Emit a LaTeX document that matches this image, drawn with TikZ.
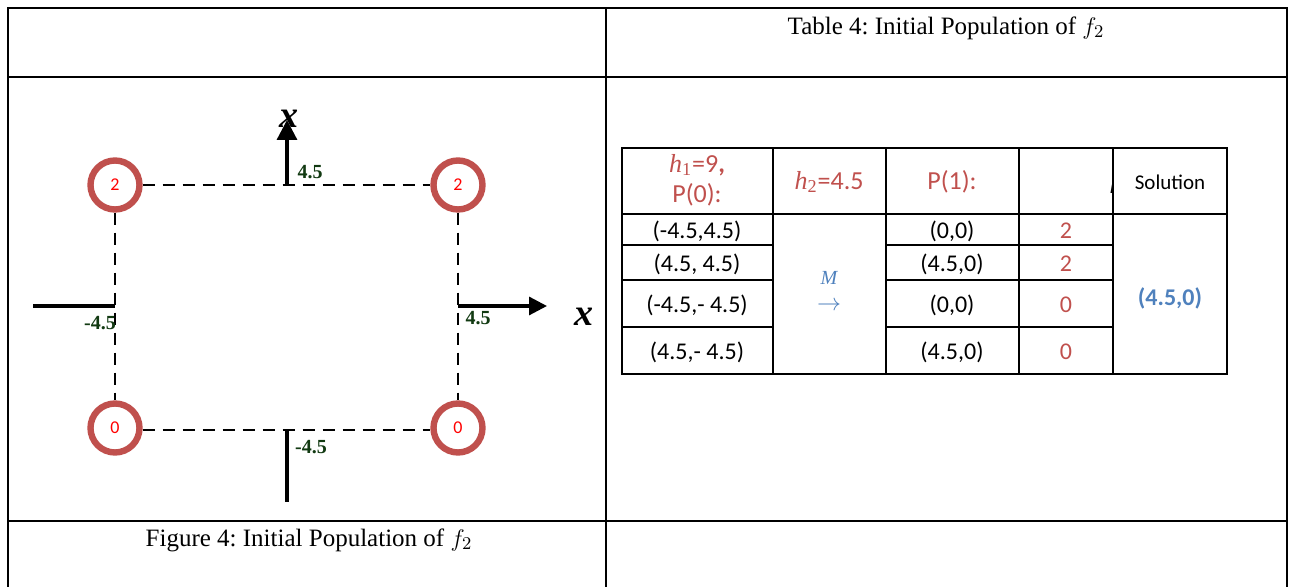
\documentclass[tikz,border=0pt]{standalone}
\usepackage{fontspec}
\setmainfont{Liberation Serif}
\newfontfamily\calib{Carlito}
\newfontfamily\hfont{Liberation Serif}
\usetikzlibrary{arrows.meta}
\definecolor{cRed}{RGB}{192,80,77}
\definecolor{cBlue}{RGB}{79,129,189}
\definecolor{cGreen}{RGB}{18,58,18}
\newcommand{\hvar}[1]{{\hfont\itshape h}\textsubscript{\hfont #1}}
\frenchspacing
\begin{document}
\begin{tikzpicture}[x=0.5pt,y=-0.5pt,
  frameln/.style={line width=1pt,black},
  gridln/.style={line width=1pt,black},
  ptnode/.style={circle,draw=cRed,line width=3.2pt,minimum size=24.5pt,inner sep=0pt,fill=white,
     text=red,font=\calib\fontsize{9}{10}\selectfont},
  dashln/.style={dash pattern=on 6pt off 4pt,line width=1.2pt},
  axisln/.style={line width=1.6pt},
  ticklab/.style={text=cGreen,font=\bfseries\fontsize{10}{12}\selectfont,inner sep=0pt},
  xlab/.style={font=\bfseries\itshape\fontsize{19}{20}\selectfont,inner sep=0pt},
  captxt/.style={font=\fontsize{12.5}{14}\selectfont,inner sep=0pt},
  celltxt/.style={font=\calib\fontsize{12}{14}\selectfont,inner sep=0pt},
  headtxt/.style={font=\calib\fontsize{13}{16}\selectfont,inner sep=0pt,text=cRed,align=center},
]
\useasboundingbox (0,0) rectangle (1292,587);
% outer frame
\draw[frameln] (8,587) -- (8,8) -- (1287,8) -- (1287,587);
\draw[frameln] (606,8) -- (606,587);
\draw[frameln] (8,77) -- (1287,77);
\draw[frameln] (8,521) -- (1287,521);
% captions
\node[captxt] (tcap) at (946,28) {Table 4: Initial Population of $f_2$};
\node[captxt] (fcap) at (309,540) {Figure 4: Initial Population of $f_2$};

% axes
\coordinate (ox1) at (287,185);
\coordinate (oy1) at (287,120);
\coordinate (ox2) at (287,430);
\coordinate (oy2) at (287,502);
\coordinate (lx1) at (33,306);
\coordinate (lx2) at (115,306);
\coordinate (rx1) at (458,306);
\coordinate (rx2) at (547,306);
\draw[axisln,-{Triangle[length=10pt,width=10pt]}] (ox1) -- (oy1);
\draw[axisln] (ox2) -- (oy2);
\draw[axisln] (lx1) -- (lx2);
\draw[axisln,-{Triangle[length=9pt,width=9pt]}] (rx1) -- (rx2);

% points
\node[ptnode] (c1) at (115,185) {2};
\node[ptnode] (c2) at (458,185) {2};
\node[ptnode] (c3) at (115,428) {0};
\node[ptnode] (c4) at (458,428) {0};
\draw[dashln] (c1.east) -- (c2.west);
\draw[dashln] (c1.south) -- (c3.north);
\draw[dashln] (c2.south) -- (c4.north);
\draw[dashln] (c3.east |- 0,430) -- (c4.west |- 0,430);

% tick labels
\node[ticklab] (t1) at (310,172) {4.5};
\node[ticklab] (t2) at (478,318) {4.5};
\node[ticklab] (t3) at (100,323) {-4.5};
\node[ticklab] (t4) at (311,447) {-4.5};
\node[xlab] (xa) at (289,119) {x};
\node[xlab] (xb) at (584,317) {x};

% table grid
\draw[gridln] (622,148) rectangle (1227,374);
\foreach \x in {773,886,1019,1113} \draw[gridln] (\x,148) -- (\x,374);
\draw[gridln] (622,214) -- (1227,214);
\foreach \y in {245,280,327} {
  \draw[gridln] (622,\y) -- (773,\y);
  \draw[gridln] (886,\y) -- (1113,\y);
}
% header
\node[headtxt] (h1) at (697,180) {\hvar{1}=9\textbf{,}\\[-1pt]P(0):};
\node[headtxt] (h2) at (829,182) {\hvar{2}=4.5};
\node[headtxt] (h3) at (952,182) {P(1):};
\node[celltxt,font=\calib\fontsize{10.5}{12}\selectfont] (h5) at (1170,182) {Solution};
\begin{scope}
\clip (1100,160) rectangle (1111.5,200);
\node[font=\itshape\fontsize{13}{15}\selectfont,inner sep=0pt] (h4) at (1116,184) {h};
\end{scope}
% rows
\node[celltxt] (a1) at (697,231) {(-4.5,4.5)};
\node[celltxt] (a2) at (697,264) {(4.5, 4.5)};
\node[celltxt] (a3) at (697,305) {(-4.5,- 4.5)};
\node[celltxt] (a4) at (697,352) {(4.5,- 4.5)};
\node[celltxt] (b1) at (952,231) {(0,0)};
\node[celltxt] (b2) at (952,264) {(4.5,0)};
\node[celltxt] (b3) at (952,305) {(0,0)};
\node[celltxt] (b4) at (952,352) {(4.5,0)};
\node[celltxt,text=cRed] (d1) at (1066,231) {2};
\node[celltxt,text=cRed] (d2) at (1066,264) {2};
\node[celltxt,text=cRed] (d3) at (1066,305) {0};
\node[celltxt,text=cRed] (d4) at (1066,352) {0};
\node[celltxt,text=cBlue,font=\calib\bfseries\fontsize{12}{14}\selectfont] (sol) at (1170,298) {(4.5,0)};
\node[text=cBlue,inner sep=0pt,font=\hfont\itshape\fontsize{10}{10}\selectfont] (m) at (829,278) {M};
\node[text=cBlue,inner sep=0pt,font=\fontsize{12}{12}\selectfont] (arr) at (829,306) {$\rightarrow$};
\end{tikzpicture}
\end{document}
